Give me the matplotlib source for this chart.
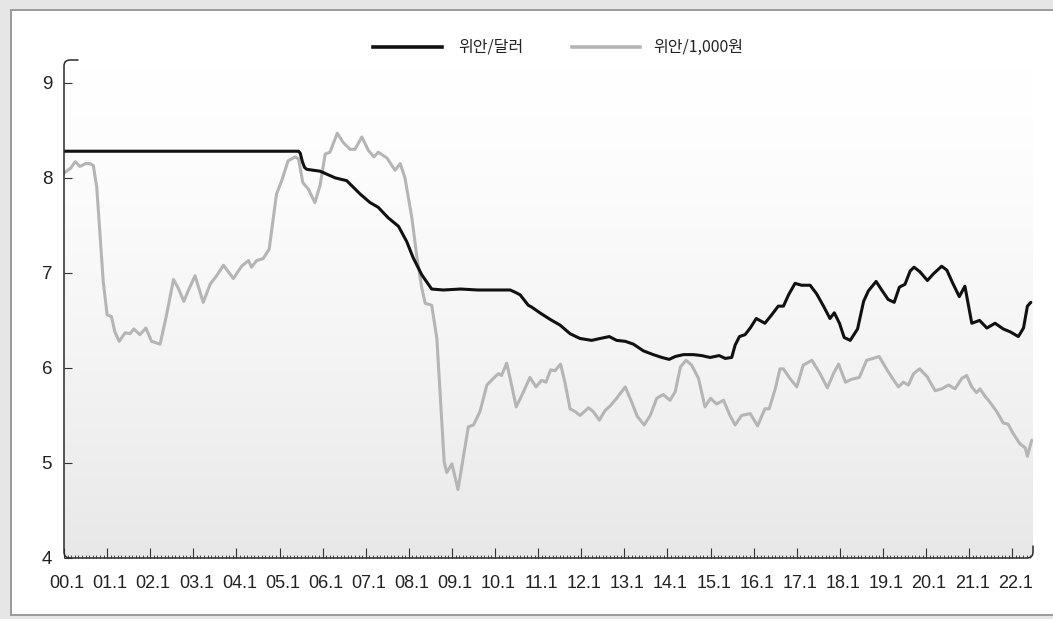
import numpy as np
import matplotlib
matplotlib.use("Agg")
import matplotlib.pyplot as plt
from matplotlib.path import Path
from matplotlib.patches import PathPatch, Rectangle
from matplotlib.lines import Line2D
from matplotlib.ticker import MultipleLocator, FixedLocator, FixedFormatter
from matplotlib.colors import LinearSegmentedColormap

# ---------------- data (x = years since Jan 2000) ----------------
usd_t = [0.0, 1.0, 2.0, 3.0, 4.0, 5.0, 5.44, 5.48, 5.53, 5.58, 5.63, 5.94, 6.29, 6.56,
         6.87, 7.10, 7.29, 7.52, 7.76, 7.95, 8.10, 8.30, 8.53, 8.8, 9.2, 9.6, 10.0,
         10.35, 10.45, 10.58, 10.77, 10.85, 11.04, 11.28, 11.51, 11.74, 11.97, 12.24,
         12.44, 12.65, 12.82, 13.02, 13.21, 13.44, 13.67, 13.87, 14.04, 14.18, 14.37,
         14.60, 14.79, 14.99, 15.20, 15.34, 15.49, 15.57, 15.67, 15.80, 15.92, 16.06,
         16.26, 16.42, 16.57, 16.69, 16.81, 16.96, 17.11, 17.31, 17.46, 17.62, 17.77,
         17.87, 17.99, 18.10, 18.24, 18.41, 18.55, 18.66, 18.84, 18.97, 19.12, 19.26,
         19.38, 19.51, 19.63, 19.72, 19.86, 20.03, 20.17, 20.36, 20.48, 20.62, 20.77,
         20.90, 21.06, 21.24, 21.41, 21.60, 21.79, 21.95, 22.14, 22.26, 22.35, 22.43]
usd_v = [8.28, 8.28, 8.28, 8.28, 8.28, 8.28, 8.28, 8.26, 8.17, 8.11, 8.09, 8.07, 8.00, 7.97,
         7.83, 7.74, 7.69, 7.58, 7.49, 7.33, 7.16, 6.98, 6.83, 6.82, 6.83, 6.82, 6.82,
         6.82, 6.80, 6.77, 6.66, 6.64, 6.58, 6.51, 6.45, 6.36, 6.31, 6.29,
         6.31, 6.33, 6.29, 6.28, 6.25, 6.18, 6.14, 6.11, 6.09, 6.12, 6.14,
         6.14, 6.13, 6.11, 6.13, 6.10, 6.11, 6.24, 6.33, 6.35, 6.42, 6.52,
         6.47, 6.56, 6.65, 6.65, 6.77, 6.89, 6.87, 6.87, 6.78, 6.65, 6.52,
         6.58, 6.47, 6.32, 6.29, 6.41, 6.70, 6.81, 6.91, 6.82, 6.72, 6.69,
         6.85, 6.88, 7.02, 7.06, 7.01, 6.92, 6.99, 7.07, 7.03, 6.89, 6.75,
         6.86, 6.47, 6.50, 6.42, 6.47, 6.41, 6.38, 6.33, 6.42, 6.65, 6.69]

krw_t = [0.00, 0.15, 0.26, 0.37, 0.50, 0.60, 0.68, 0.76, 0.84, 0.91, 1.00, 1.10, 1.18,
         1.28, 1.42, 1.53, 1.62, 1.76, 1.90, 2.03, 2.23, 2.38, 2.54, 2.65, 2.78, 2.88,
         3.04, 3.23, 3.39, 3.54, 3.70, 3.93, 4.12, 4.28, 4.35, 4.47, 4.62, 4.76, 4.93,
         5.05, 5.20, 5.36, 5.44, 5.54, 5.67, 5.82, 5.94, 6.06, 6.17, 6.34, 6.48, 6.64,
         6.75, 6.91, 7.06, 7.19, 7.29, 7.49, 7.68, 7.80, 7.91, 8.07, 8.18, 8.30, 8.38,
         8.53, 8.65, 8.72, 8.82, 8.88, 9.00, 9.14, 9.27, 9.38, 9.50, 9.65, 9.81, 9.96,
         10.08, 10.15, 10.27, 10.35, 10.49, 10.62, 10.81, 10.95, 11.08, 11.18, 11.29,
         11.39, 11.52, 11.62, 11.74, 11.86, 11.97, 12.17, 12.28, 12.42, 12.55, 12.67,
         12.82, 13.02, 13.17, 13.30, 13.46, 13.60, 13.75, 13.90, 14.06, 14.18, 14.30,
         14.43, 14.56, 14.72, 14.87, 15.00, 15.14, 15.30, 15.45, 15.57, 15.72, 15.92,
         16.09, 16.26, 16.36, 16.50, 16.61, 16.69, 16.84, 17.00, 17.15, 17.35, 17.54,
         17.71, 17.85, 17.97, 18.13, 18.27, 18.45, 18.62, 18.77, 18.91, 19.08, 19.22,
         19.36, 19.47, 19.59, 19.71, 19.85, 20.02, 20.21, 20.36, 20.52, 20.67, 20.83,
         20.94, 21.06, 21.17, 21.25, 21.37, 21.48, 21.64, 21.79, 21.90, 22.02, 22.18,
         22.30, 22.35, 22.45]
krw_v = [8.05, 8.10, 8.17, 8.12, 8.15, 8.15, 8.13, 7.90, 7.37, 6.91, 6.56, 6.54, 6.38,
         6.28, 6.37, 6.36, 6.41, 6.35, 6.42, 6.28, 6.25, 6.56, 6.93, 6.84, 6.70, 6.81,
         6.97, 6.69, 6.88, 6.97, 7.08, 6.94, 7.07, 7.13, 7.06, 7.13, 7.15, 7.25, 7.83,
         7.97, 8.18, 8.22, 8.20, 7.95, 7.88, 7.74, 7.92, 8.25, 8.27, 8.47, 8.37, 8.30,
         8.30, 8.43, 8.29, 8.22, 8.27, 8.21, 8.08, 8.15, 8.00, 7.58, 7.19, 6.84, 6.68,
         6.66, 6.31, 5.78, 5.01, 4.90, 4.99, 4.72, 5.08, 5.38, 5.40, 5.54, 5.82, 5.89,
         5.94, 5.92, 6.05, 5.89, 5.59, 5.71, 5.90, 5.80, 5.87, 5.85, 5.98,
         5.97, 6.04, 5.85, 5.57, 5.54, 5.50, 5.58, 5.54, 5.45, 5.55, 5.60,
         5.68, 5.80, 5.64, 5.49, 5.40, 5.50, 5.68, 5.72, 5.66, 5.75, 6.01,
         6.08, 6.03, 5.89, 5.59, 5.68, 5.62, 5.66, 5.50, 5.40, 5.50, 5.52,
         5.39, 5.57, 5.57, 5.78, 5.99, 5.99, 5.89, 5.80, 6.03, 6.08, 5.94,
         5.79, 5.94, 6.04, 5.85, 5.88, 5.90, 6.08, 6.10, 6.12, 5.99, 5.89,
         5.80, 5.85, 5.82, 5.94, 5.99, 5.91, 5.76, 5.78, 5.82, 5.78, 5.89,
         5.92, 5.80, 5.74, 5.78, 5.70, 5.64, 5.54, 5.42, 5.41, 5.31, 5.20,
         5.16, 5.07, 5.24]

year_ticks = list(range(0, 23))
year_labels = [f"{y:02d}.1" for y in year_ticks]
y_ticks = [4, 5, 6, 7, 8, 9]
legend_labels = ["위안/달러", "위안/1,000원"]

# ---------------- figure ----------------
W, H = 1053, 619
fig = plt.figure(figsize=(W / 100, H / 100), dpi=100)
fig.patch.set_facecolor("#e6e6e6")

# white panel with grey border
panel = Rectangle((11 / W, (H - 615) / H), 1.2, (615 - 10) / H,
                  transform=fig.transFigure, facecolor="white",
                  edgecolor="#9a9a9a", linewidth=1.4, zorder=0)
fig.add_artist(panel)

ax_l, ax_r, ax_t, ax_b = 64, 1033, 60, 558
axw, axh = ax_r - ax_l, ax_b - ax_t
ax = fig.add_axes([ax_l / W, (H - ax_b) / H, axw / W, axh / H])
ax.patch.set_visible(False)
for s in ax.spines.values():
    s.set_visible(False)

XMAX = 22.48
YMIN, YMAX = 4.0, 9.24
ax.set_xlim(0, XMAX)
ax.set_ylim(YMIN, YMAX)

# gradient background clipped to rounded frame
r = 6
rx, ry = r / axw, r / axh
verts = [(0, 1), (1, 1), (1, ry), (1, 0), (1 - rx, 0), (rx, 0), (0, 0), (0, ry), (0, 1)]
codes = [Path.MOVETO, Path.LINETO, Path.LINETO, Path.CURVE3, Path.CURVE3,
         Path.LINETO, Path.CURVE3, Path.CURVE3, Path.CLOSEPOLY]
clip = PathPatch(Path(verts, codes), transform=ax.transAxes, facecolor="none",
                 edgecolor="none")
ax.add_patch(clip)
yy = np.linspace(1, 0, 300)
grad = (1 - yy) ** 1.4
cmap = LinearSegmentedColormap.from_list("g", ["#ffffff", "#e8e8e8"])
im = ax.imshow(grad[:, None], cmap=cmap, vmin=0, vmax=1, aspect="auto",
               extent=[0, 1, 0, 1], transform=ax.transAxes, zorder=0,
               interpolation="bilinear")
im.set_clip_path(clip)

# custom frame: rounded bracket shape
fx = lambda px: (px - ax_l) / axw
fy = lambda py: (ax_b - py) / axh
fverts = [(fx(78), fy(60)), (fx(70), fy(60)), (fx(64), fy(60)), (fx(64), fy(66)),
          (fx(64), fy(552)), (fx(64), fy(558)), (fx(70), fy(558)),
          (fx(1027), fy(558)), (fx(1033), fy(558)), (fx(1033), fy(552)),
          (fx(1033), fy(546))]
fcodes = [Path.MOVETO, Path.LINETO, Path.CURVE3, Path.CURVE3,
          Path.LINETO, Path.CURVE3, Path.CURVE3,
          Path.LINETO, Path.CURVE3, Path.CURVE3, Path.LINETO]
frame = PathPatch(Path(fverts, fcodes), transform=ax.transAxes, facecolor="none",
                  edgecolor="#2a2a2a", linewidth=1.1, zorder=5, clip_on=False,
                  capstyle="round")
ax.add_patch(frame)

# lines
ax.plot(krw_t, krw_v, color="#b5b5b5", lw=2.2, zorder=3, solid_joinstyle="round",
        solid_capstyle="round")
ax.plot(usd_t, usd_v, color="#111111", lw=2.2, zorder=4, solid_joinstyle="round",
        solid_capstyle="round")

# ticks
tick_font = ["Liberation Sans Narrow", "Liberation Sans", "DejaVu Sans"]
ax.xaxis.set_major_locator(FixedLocator(year_ticks))
ax.xaxis.set_major_formatter(FixedFormatter(year_labels))
ax.xaxis.set_minor_locator(MultipleLocator(1 / 12))
ax.set_yticks(y_ticks)
ax.set_yticklabels([str(v) for v in y_ticks])
ax.tick_params(axis="x", which="major", direction="in", length=7, width=0.8,
               color="#333333", pad=12.5, labelsize=13, labelcolor="#222222")
ax.tick_params(axis="x", which="minor", direction="in", length=2.2, width=0.6,
               color="#333333")
ax.tick_params(axis="y", which="major", direction="in", length=5.8, width=0.8,
               color="#333333", pad=8.5, labelsize=13.5, labelcolor="#222222")
for lab in ax.get_xticklabels() + ax.get_yticklabels():
    lab.set_family(tick_font)
# labels sit a few pixels right of their ticks in the reference
from matplotlib.transforms import ScaledTranslation
off = ScaledTranslation(3 / 100, 0, fig.dpi_scale_trans)
for lab in ax.get_xticklabels():
    lab.set_transform(lab.get_transform() + off)

# legend (manual)
ly = 1 - 47 / H
kfont = ["Noto Sans CJK KR", "DejaVu Sans"]
fig.add_artist(Line2D([373 / W, 442 / W], [ly, ly], transform=fig.transFigure,
                      color="#111111", lw=2.6))
fig.text(458 / W, ly, legend_labels[0], ha="left", va="center", fontsize=11.5,
         family=kfont, color="#222222")
fig.add_artist(Line2D([572 / W, 640 / W], [ly, ly], transform=fig.transFigure,
                      color="#b5b5b5", lw=2.6))
fig.text(653 / W, ly, legend_labels[1], ha="left", va="center", fontsize=11.5,
         family=kfont, color="#222222")

fig.savefig("out.png", dpi=100, facecolor=fig.get_facecolor())
